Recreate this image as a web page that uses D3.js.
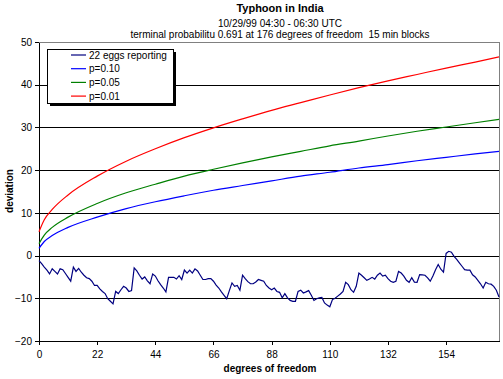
<!DOCTYPE html>
<meta charset="utf-8">
<style type="text/css">
  body {
    margin: 0;
    background: #fff;
  }

  text {
    font-family: Arial, "Liberation Sans", sans-serif;
    font-size: 10px;
    fill: #000;
  }

  .line {
    fill: none;
    stroke-width: 1.2;
  }

  .grid line {
    stroke: #000;
    shape-rendering: crispEdges;
  }
</style>

<body>
</body>
<script src="https://d3js.org/d3.v7.min.js"></script>
<script>
  // Typhoon in India - cumulative deviation vs degrees of freedom

  // data
  var eggs = [-1.2, -1.9, -2.7, -3.4, -4.3, -3.1, -3.7, -4.3, -3.1, -3.3,
    -4.2, -5.1, -6.0, -2.7, -3.7, -3.0, -3.9, -4.6, -5.2, -5.4,
    -6.0, -7.0, -7.0, -7.8, -8.4, -8.9, -10.1, -10.7, -11.3, -8.4,
    -8.9, -8.0, -7.2, -7.6, -8.4, -8.2, -2.9, -3.6, -4.6, -5.5,
    -5.0, -5.9, -6.6, -4.3, -4.8, -5.9, -6.8, -7.6, -8.5, -5.1,
    -5.1, -5.1, -5.5, -4.7, -5.6, -3.4, -4.1, -3.4, -4.1, -3.1,
    -3.6, -4.6, -5.6, -5.6, -5.4, -5.4, -6.0, -6.9, -7.6, -8.5,
    -9.3, -10.1, -8.2, -6.4, -7.2, -7.0, -8.1, -4.6, -5.4, -6.1,
    -6.6, -6.6, -6.2, -5.6, -5.8, -6.0, -7.0, -7.6, -8.0, -7.6,
    -8.4, -8.6, -9.9, -8.9, -9.9, -10.5, -10.7, -10.7, -8.4, -8.1,
    -8.75, -8.5, -8.2, -9.3, -10.5, -10.1, -9.9, -9.8, -11.1, -11.6,
    -12.0, -10.3, -10.0, -9.5, -9.0, -8.4, -6.25, -6.8, -8.0, -8.6,
    -7.2, -4.1, -4.6, -5.2, -5.8, -5.5, -5.1, -5.5, -4.6, -4.1,
    -4.8, -4.6, -5.4, -6.0, -6.25, -6.0, -3.7, -4.1, -4.8, -5.8,
    -6.25, -5.2, -6.2, -6.25, -4.45, -4.5, -4.6, -5.2, -6.0, -4.8,
    -3.3, -2.1, -3.2, -3.9, 0.5, 1.0, 0.8, -0.2, -0.9, -1.7,
    -2.5, -3.3, -3.4, -3.4, -4.5, -5.0, -5.8, -6.6, -7.6, -6.25,
    -6.6, -6.7, -7.2, -8.1, -9.7];

  // the three probability envelopes, sampled at these x positions
  var envX = [0, 2, 5, 11, 22, 33, 44, 55, 66, 77, 88, 99, 110, 121, 132, 143, 154, 165, 174];
  var p10 = [1.7, 3.3, 4.7, 6.6, 9.0, 11.0, 12.6, 14.0, 15.3, 16.4, 17.5, 18.6, 19.5, 20.5, 21.3, 22.2, 23.0, 23.8, 24.4];
  var p05 = [2.8, 4.8, 6.6, 9.0, 12.2, 14.7, 16.7, 18.6, 20.2, 21.7, 23.1, 24.4, 25.7, 26.8, 28.0, 29.1, 30.1, 31.1, 31.9];
  var p01 = [5.6, 8.4, 10.8, 14.2, 18.6, 22.1, 25.0, 27.6, 29.9, 32.0, 34.0, 35.8, 37.6, 39.3, 40.9, 42.4, 43.9, 45.3, 46.5];

  var xTicks = [0, 22, 44, 66, 88, 110, 132, 154];
  var yTicks = [-20, -10, 0, 10, 20, 30, 40, 50];

  var legendNames = ["22 eggs reporting", "p=0.10", "p=0.05", "p=0.01"];
  var colors = ["#000080", "#0000ff", "#008000", "#ff0000"];

  var W = 503,
    H = 379;
  var plot = {
    left: 39,
    right: 499,
    top: 42,
    bottom: 341
  };

  var svg = d3.select("body").append("svg")
    .attr("width", W)
    .attr("height", H);

  var xScale = d3.scaleLinear()
    .domain([0, 174])
    .range([plot.left, plot.right]);

  var yScale = d3.scaleLinear()
    .domain([-20, 50])
    .range([plot.bottom, plot.top]);

  // titles
  svg.append("text")
    .attr("x", 280).attr("y", 12)
    .attr("text-anchor", "middle")
    .style("font-weight", "bold")
    .style("font-size", "11px")
    .text("Typhoon in India");
  svg.append("text")
    .attr("x", 280).attr("y", 27)
    .attr("text-anchor", "middle")
    .text("10/29/99 04:30 - 06:30 UTC");
  svg.append("text")
    .attr("x", 280).attr("y", 38)
    .attr("text-anchor", "middle")
    .style("white-space", "pre")
    .text("terminal probabilitu 0.691 at 176 degrees of freedom  15 min blocks");

  // horizontal gridlines
  svg.append("g")
    .attr("class", "grid")
    .selectAll("line")
    .data(yTicks.filter(function(d) { return d > -20 && d < 50; }))
    .join("line")
    .attr("x1", plot.left)
    .attr("x2", plot.right)
    .attr("y1", function(d) { return Math.round(yScale(d)) + 0.5; })
    .attr("y2", function(d) { return Math.round(yScale(d)) + 0.5; });

  // grey frame on top and right
  svg.append("path")
    .attr("d", "M" + plot.left + "," + (plot.top + 0.5) + "H" + (plot.right + 0.5) + "V" + plot.bottom)
    .attr("fill", "none")
    .attr("stroke", "#808080")
    .style("shape-rendering", "crispEdges");

  // axes
  var xAxis = svg.append("g")
    .attr("transform", "translate(0," + plot.bottom + ")")
    .call(d3.axisBottom(xScale).tickValues(xTicks).tickSize(4).tickSizeOuter(0));
  var yAxis = svg.append("g")
    .attr("transform", "translate(" + plot.left + ",0)")
    .call(d3.axisLeft(yScale).tickValues(yTicks).tickSize(4).tickSizeOuter(0));

  [xAxis, yAxis].forEach(function(ax) {
    ax.selectAll("path, line")
      .attr("stroke", "#000")
      .style("shape-rendering", "crispEdges");
    ax.selectAll("text")
      .style("font-family", "Arial, 'Liberation Sans', sans-serif")
      .style("font-size", "10px")
      .attr("fill", "#000");
  });
  xAxis.selectAll("text").attr("y", 10);
  yAxis.selectAll("text").attr("x", -7);

  // axis titles
  svg.append("text")
    .attr("x", 270).attr("y", 372)
    .attr("text-anchor", "middle")
    .style("font-weight", "bold")
    .text("degrees of freedom");
  svg.append("text")
    .attr("transform", "translate(13,191) rotate(-90)")
    .attr("text-anchor", "middle")
    .style("font-weight", "bold")
    .text("deviation");

  // lines
  var envLine = d3.line()
    .x(function(d, i) { return xScale(envX[i]); })
    .y(function(d) { return yScale(d); })
    .curve(d3.curveMonotoneX);

  [p10, p05, p01].forEach(function(series, k) {
    svg.append("path")
      .datum(series)
      .attr("class", "line")
      .attr("stroke", colors[k + 1])
      .attr("d", envLine);
  });

  var eggLine = d3.line()
    .x(function(d, i) { return xScale(i); })
    .y(function(d) { return yScale(d); });

  svg.append("path")
    .datum(eggs)
    .attr("class", "line")
    .attr("stroke", colors[0])
    .attr("d", eggLine);

  // legend box with shadow
  var lg = svg.append("g");
  lg.append("rect")
    .attr("x", 50).attr("y", 52)
    .attr("width", 126).attr("height", 54)
    .attr("fill", "#000");
  lg.append("rect")
    .attr("x", 47.5).attr("y", 49.5)
    .attr("width", 126).attr("height", 54)
    .attr("fill", "#fff")
    .attr("stroke", "#000");

  var rows = lg.selectAll("g.row")
    .data(legendNames)
    .join("g")
    .attr("class", "row")
    .attr("transform", function(d, i) { return "translate(0," + (55 + i * 13.7) + ")"; });
  rows.append("line")
    .attr("x1", 71).attr("x2", 86)
    .attr("y1", 0).attr("y2", 0)
    .attr("stroke", function(d, i) { return colors[i]; })
    .attr("stroke-width", 1.2);
  rows.append("text")
    .attr("x", 89).attr("y", 3.5)
    .text(function(d) { return d; });
</script>
